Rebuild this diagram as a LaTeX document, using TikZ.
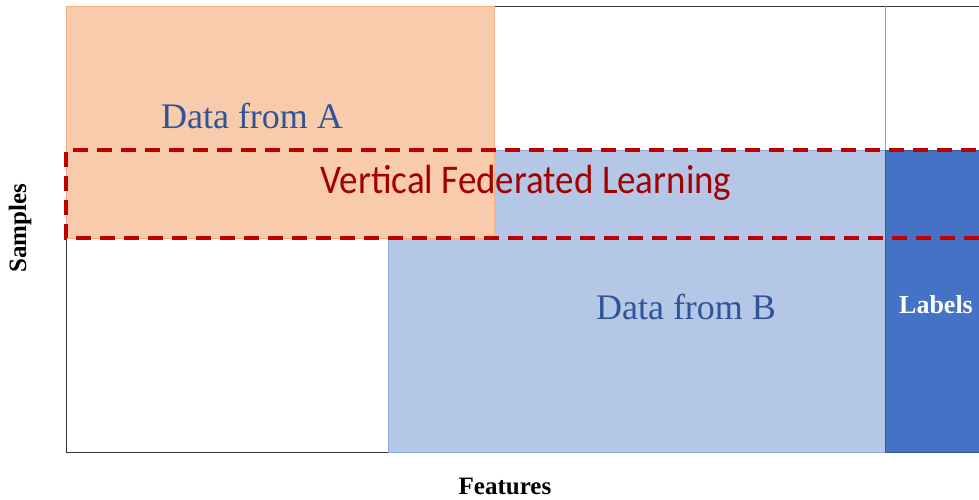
\documentclass[tikz,border=0pt]{standalone}
\usepackage{fontspec}
\setmainfont{Liberation Serif}
\newfontfamily\calfont{Carlito}
\definecolor{orangeA}{HTML}{F8CBAD}
\definecolor{orangeAedge}{HTML}{F4B183}
\definecolor{blueB}{HTML}{B4C7E7}
\definecolor{blueBedge}{HTML}{8FAADC}
\definecolor{blueLab}{HTML}{4472C4}
\definecolor{textblue}{HTML}{2F5597}
\definecolor{vflred}{HTML}{C00000}
\begin{document}
\begin{tikzpicture}[x=1pt,y=-1pt,
    block/.style={anchor=north west,inner sep=0pt,outer sep=0pt},
    axislabel/.style={font=\fontsize{25}{25}\selectfont\bfseries}]
    \useasboundingbox (0,0) rectangle (979,499);
    \clip (0,0) rectangle (979,499);
    \fill[white] (0,0) rectangle (979,499);

    \coordinate (o) at (66,452);
    \coordinate (t) at (66,6);

    % frame
    \draw[thin,black!80] (t)--(1000,6);
    \draw[thin,black!80] (t)--(o)--(388,452);
    \draw[thin,blueBedge!70!gray] (885,6)--(885,150);

    % data blocks
    \node[block,fill=blueB,draw=blueBedge,minimum width=497pt,minimum height=302pt] (B) at (388,150) {};
    \node[block,fill=blueLab,draw=blueLab!80!black,minimum width=120pt,minimum height=302pt] (lab) at (885,150) {};
    \node[block,fill=orangeA,draw=orangeAedge,minimum width=428pt,minimum height=232pt] (A) at (66,6) {};

    % overlap of samples
    \draw[vflred,line width=3.5pt,dash pattern=on 15pt off 9pt] (1000,150)--(66,150)--(66,238)--(1000,238);

    \node[textblue,font=\fontsize{36}{36}\selectfont] (tA) at (252,116) {Data from A};
    \node[textblue,font=\fontsize{36}{36}\selectfont] (tB) at (686,307) {Data from B};
    \node[vflred!85!black,font=\calfont\fontsize{37}{37}\selectfont,yscale=1.1] (vfl) at (526,183) {Vertical Federated Learning};
    \node[white,font=\fontsize{26}{26}\selectfont\bfseries] (tlab) at (936,305) {Labels};
    \node[axislabel,rotate=90] (samp) at (20,228) {Samples};
    \node[axislabel] (feat) at (505,486) {Features};
\end{tikzpicture}
\end{document}
